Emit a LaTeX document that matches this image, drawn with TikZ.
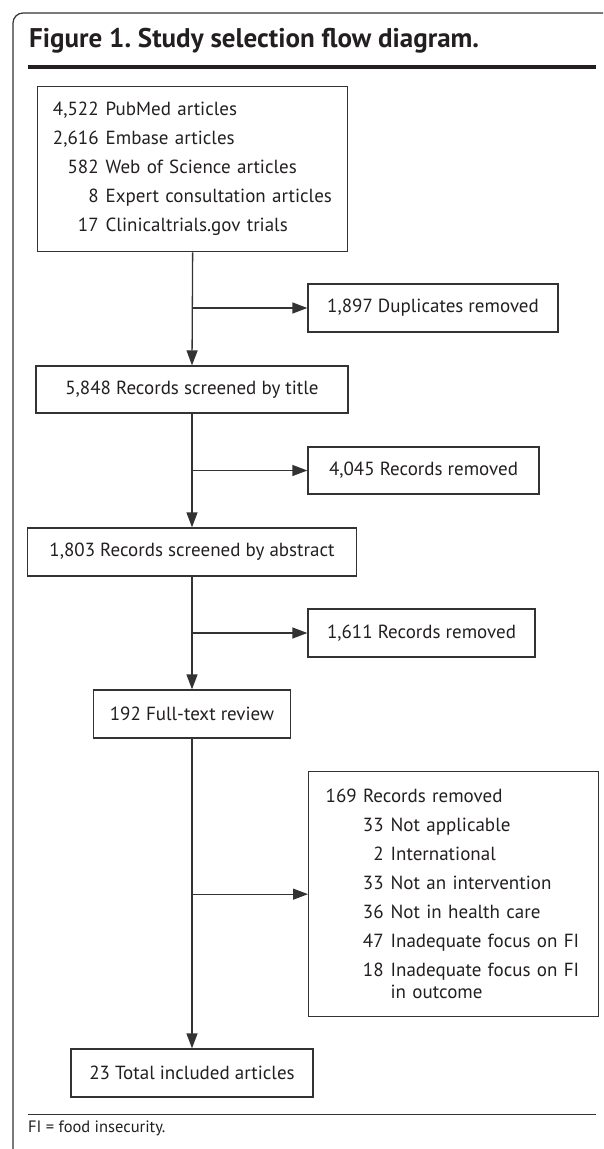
\documentclass[tikz,border=0pt]{standalone}
\usepackage{fontspec}
\usepackage{xcolor}
\usetikzlibrary{arrows.meta}
\setmainfont{PT Sans}
\frenchspacing
\definecolor{linegray}{HTML}{333333}
\definecolor{textgray}{HTML}{231F20}
\newcommand{\countline}[3]{\makebox[#1][r]{#2}\hspace{7pt}#3}
\tikzset{
    flow-box/.style = {draw=linegray, line width=1.3pt, rectangle, inner sep=0pt, text=textgray, font=\fontsize{19}{29}\selectfont},
    flow-list/.style = {flow-box, anchor=north west, align=left},
    flow-arrow/.style = {draw=linegray, line width=1.3pt, -{Triangle[length=15pt, width=11pt]}},
    figure-title/.style = {anchor=west, inner sep=0pt, text=textgray, font=\fontsize{27}{30}\selectfont\bfseries},
}
\begin{document}
\begin{tikzpicture}[x=1pt, y=-1pt]
\useasboundingbox (0,0) rectangle (603,1149);
\draw[linegray, line width=1.2pt, rounded corners=10pt] (13,1149) -- (13,13) -- (603,13);
\node[figure-title] (title) at (29,41) {Figure 1. Study selection flow diagram.};
\draw[textgray, line width=4pt] (28,67) -- (596,67);
\node[flow-list, minimum width=310pt, minimum height=165pt, text width=288pt, inner xsep=11pt] (sources) at (37,86) {%
    \countline{50pt}{4,522}{PubMed articles}\\
    \countline{50pt}{2,616}{Embase articles}\\
    \countline{50pt}{582}{Web of Science articles}\\
    \countline{50pt}{8}{Expert consultation articles}\\
    \countline{50pt}{17}{Clinicaltrials.gov trials}};
\node[flow-box, minimum width=250pt, minimum height=48pt] (duplicates) at (433,308) {1,897 Duplicates removed};
\node[flow-box, minimum width=312pt, minimum height=47pt] (by-title) at (192,389.5) {5,848 Records screened by title};
\node[flow-box, minimum width=231pt, minimum height=47pt] (removed-title) at (423.5,470.5) {4,045 Records removed};
\node[flow-box, minimum width=329pt, minimum height=48pt] (by-abstract) at (192,552) {1,803 Records screened by abstract};
\node[flow-box, minimum width=227pt, minimum height=48pt] (removed-abstract) at (421.5,633) {1,611 Records removed};
\node[flow-box, minimum width=197pt, minimum height=48pt] (full-text) at (192,714) {192 Full-text review};
\node[flow-list, minimum width=290pt, minimum height=245pt, text width=256pt, inner xsep=17pt] (removed-full) at (308,771) {%
    169 Records removed\\
    \hspace*{36pt}\countline{22pt}{33}{Not applicable}\\
    \hspace*{36pt}\countline{22pt}{2}{International}\\
    \hspace*{36pt}\countline{22pt}{33}{Not an intervention}\\
    \hspace*{36pt}\countline{22pt}{36}{Not in health care}\\
    \hspace*{36pt}\countline{22pt}{47}{Inadequate focus on FI}\\
    \hspace*{36pt}\countline{22pt}{18}{Inadequate focus on FI}\\[-7pt]
    \hspace*{65pt}in outcome};
\node[flow-box, minimum width=242pt, minimum height=48pt] (included) at (192,1073) {23 Total included articles};
\draw[flow-arrow] (sources.south) -- (by-title.north);
\draw[flow-arrow] (sources.south |- duplicates.west) -- (duplicates.west);
\draw[flow-arrow] (by-title.south) -- (by-abstract.north);
\draw[flow-arrow] (by-title.south |- removed-title.west) -- (removed-title.west);
\draw[flow-arrow] (by-abstract.south) -- (full-text.north);
\draw[flow-arrow] (by-abstract.south |- removed-abstract.west) -- (removed-abstract.west);
\draw[flow-arrow] (full-text.south) -- (included.north);
\draw[flow-arrow] (full-text.south |- removed-full.west) -- (removed-full.west);
\draw[linegray, line width=1pt] (28,1114) -- (596,1114);
\node[anchor=west, inner sep=0pt, text=textgray, font=\fontsize{16.5}{19}\selectfont] (footnote) at (28,1128) {FI = food insecurity.};
\end{tikzpicture}
\end{document}
